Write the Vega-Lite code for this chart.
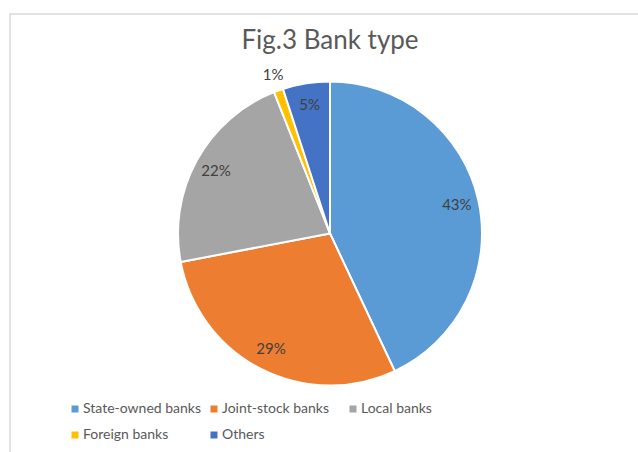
{
  "$schema": "https://vega.github.io/schema/vega-lite/v6.json",
  "width": 640,
  "height": 439,
  "autosize": {"type": "none"},
  "padding": {"left": 10, "top": 14, "right": 0, "bottom": 0},
  "background": "white",
  "view": {"stroke": "#d9d9d9", "strokeWidth": 1.5},
  "title": {"text": "Fig.3 Bank type", "anchor": "middle", "frame": "group", "offset": -40, "font": "Lato", "fontSize": 26, "fontWeight": "normal", "color": "#595959"},
  "data": {
    "values": [
      {"type": "State-owned banks", "share": 0.43},
      {"type": "Joint-stock banks", "share": 0.29},
      {"type": "Local banks", "share": 0.22},
      {"type": "Foreign banks", "share": 0.01},
      {"type": "Others", "share": 0.05}
    ]
  },
  "transform": [{"window": [{"op": "row_number", "as": "idx"}]}],
  "encoding": {
    "theta": {"field": "share", "type": "quantitative", "stack": true},
    "order": {"field": "idx", "type": "quantitative", "sort": "ascending"},
    "color": {
      "field": "type",
      "type": "nominal",
      "scale": {
        "domain": ["State-owned banks", "Joint-stock banks", "Local banks", "Foreign banks", "Others"],
        "range": ["#5B9BD5", "#ED7D31", "#A5A5A5", "#FFC000", "#4472C4"]
      },
      "legend": {
        "title": null,
        "orient": "none",
        "legendX": 58,
        "legendY": 388,
        "direction": "horizontal",
        "columns": 3,
        "gridAlign": "all",
        "columnPadding": 6,
        "rowPadding": 12,
        "labelFont": "Lato",
        "labelFontSize": 14,
        "labelColor": "#595959",
        "labelOffset": 1,
        "symbolType": "square",
        "symbolSize": 49,
        "symbolStrokeWidth": 0
      }
    }
  },
  "layer": [
    {"mark": {"type": "arc", "outerRadius": 152, "stroke": "white", "strokeWidth": 2}},
    {
      "mark": {"type": "text", "radius": 130, "font": "Lato", "fontSize": 15, "fill": "#404040"},
      "encoding": {
        "text": {"field": "share", "type": "quantitative", "format": ".0%"},
        "opacity": {"condition": {"test": "datum.share >= 0.02", "value": 1}, "value": 0}
      }
    },
    {
      "mark": {"type": "text", "radius": 168, "font": "Lato", "fontSize": 15, "fill": "#404040"},
      "encoding": {
        "text": {"field": "share", "type": "quantitative", "format": ".0%"},
        "opacity": {"condition": {"test": "datum.share < 0.02", "value": 1}, "value": 0}
      }
    }
  ]
}
